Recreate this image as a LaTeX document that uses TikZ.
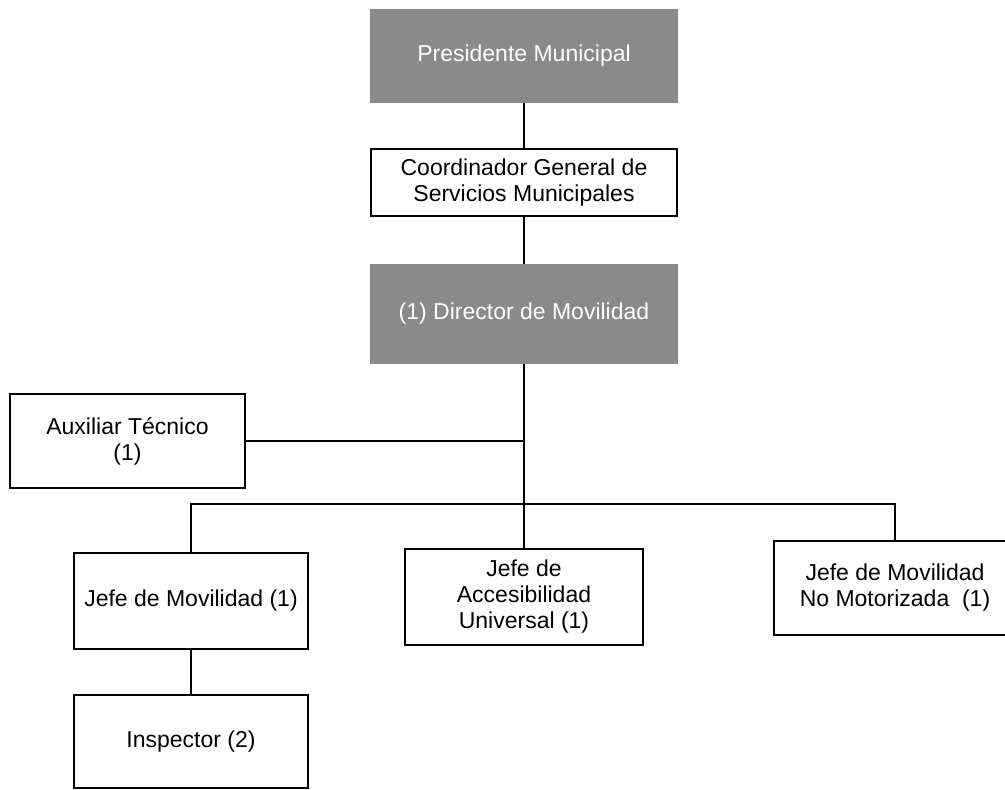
\documentclass[tikz,border=0pt]{standalone}
\usepackage{fontspec}
\setmainfont{Liberation Sans}
\definecolor{boxgray}{RGB}{138,138,138}
\begin{document}
\begin{tikzpicture}[x=1pt,y=-1pt,
  unit/.style={draw=black, line width=1.2pt, fill=white, align=center,
    inner sep=0pt, font=\fontsize{23}{26}\selectfont},
  headunit/.style={unit, draw=boxgray, fill=boxgray, text=white},
  link/.style={draw=black, line width=1.8pt}]
\useasboundingbox (0,0) rectangle (1005,790);
\begin{scope}
\clip (0,0) rectangle (1005,790);
% top chain
\node[headunit, minimum width=306pt, minimum height=92pt] (pres) at (524,56) {Presidente Municipal};
\node[unit, minimum width=306pt, minimum height=67pt] (coord) at (524,182.5) {Coordinador General de\\Servicios Municipales};
\node[headunit, minimum width=306pt, minimum height=98pt] (dir) at (524,314) {(1) Director de Movilidad};
% staff position
\node[unit, minimum width=235pt, minimum height=94pt] (aux) at (127.5,441) {Auxiliar Técnico\\(1)};
% second level
\node[unit, minimum width=234pt, minimum height=96pt] (jm) at (191,601) {Jefe de Movilidad (1)};
\node[unit, minimum width=238pt, minimum height=96pt] (acc) at (524,597) {Jefe de\\Accesibilidad\\Universal (1)};
\node[unit, minimum width=242pt, minimum height=94pt] (jnm) at (895,588) {Jefe de Movilidad\\No Motorizada\ \ (1)};
% third level
\node[unit, minimum width=234pt, minimum height=93pt] (insp) at (191,741.5) {Inspector (2)};
\coordinate (bus) at (524,504);
% connectors
\draw[link] (pres.south) -- (coord.north);
\draw[link] (coord.south) -- (dir.north);
\draw[link] (dir.south) -- (acc.north);
\draw[link] (aux.east) -- (aux.east -| dir.south);
\draw[link] (jm.north) -- (jm.north |- bus) -- (jnm.north |- bus) -- (jnm.north);
\draw[link] (jm.south) -- (insp.north);
\end{scope}
\end{tikzpicture}
\end{document}
